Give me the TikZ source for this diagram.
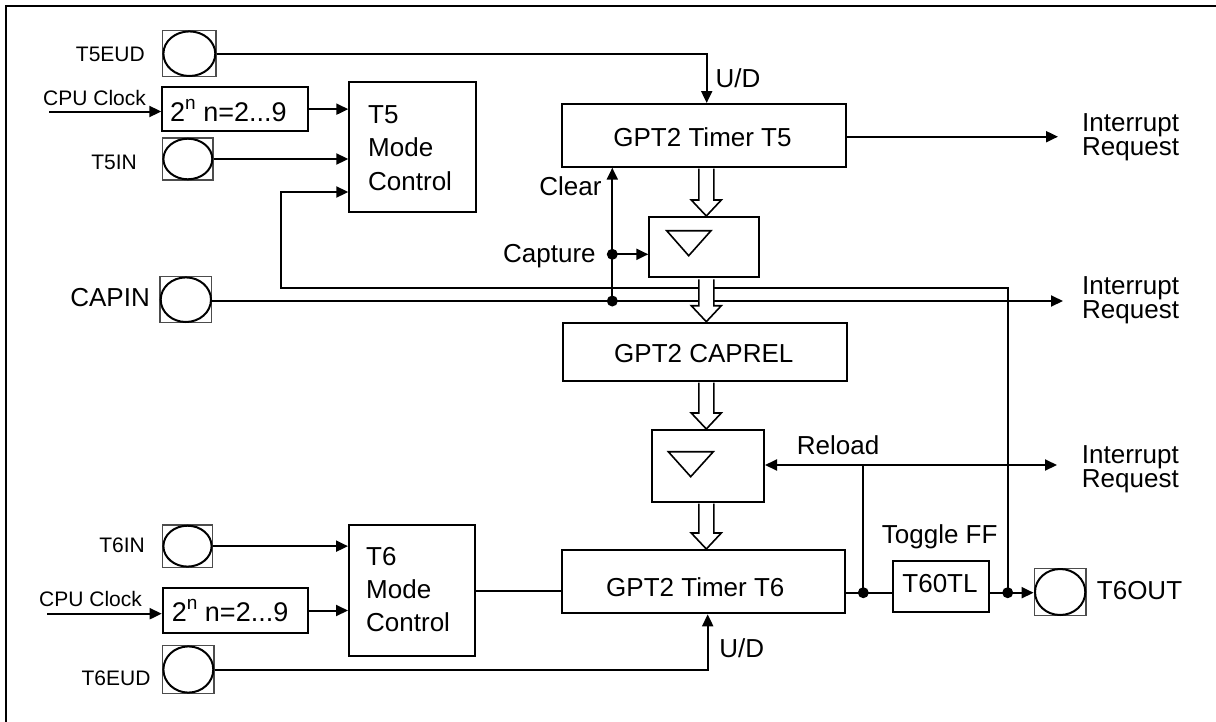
\documentclass[tikz,border=0pt]{standalone}
\usepackage{fontspec}
\setmainfont{Liberation Sans}
\usetikzlibrary{arrows.meta,calc}
\newcommand{\hollowarr}[2]{\draw[hol] let \p1=(#1),\p2=(#2) in (\x1-7.5pt,\y1-1pt) -- (\x1-7.5pt,\y2+16pt) -- (\x1-15pt,\y2+16pt) -- (\x1,\y2) -- (\x1+15pt,\y2+16pt) -- (\x1+7.5pt,\y2+16pt) -- (\x1+7.5pt,\y1-1pt);}
\newcommand{\padnode}[5]{\node[padsq,minimum width=#4,minimum height=#5] (#1) at (#2,#3) {};
  \draw[padel] (#1.center) ellipse [x radius={(#4/2-0.7)*1pt}, y radius={(#5/2-0.7)*1pt}];}
\begin{document}
\begin{tikzpicture}[x=1pt,y=-1pt,
  wire/.style={line width=2pt},
  arr/.style={wire,-{Triangle[length=12pt,width=11pt]}},
  blk/.style={draw,line width=2pt,inner sep=0pt},
  padsq/.style={draw=black!70,line width=1.4pt,inner sep=0pt},
  padel/.style={line width=2pt},
  hol/.style={draw,fill=white,line width=1.6pt,line join=miter},
  tri/.style={line width=1.6pt,line join=miter},
  dot/.style={circle,fill,inner sep=0pt,minimum size=11pt},
  lbl/.style={inner sep=0pt,font=\fontsize{26}{30}\selectfont},
  slbl/.style={inner sep=0pt,font=\fontsize{21}{25}\selectfont},
  irq/.style={inner sep=0pt,align=left,font=\fontsize{26}{24}\selectfont}]
\useasboundingbox (0,0) rectangle (1216,721);
\draw[line width=2pt] (5.7,722) -- (5.7,6) -- (1217,6);

% boxes
\node[blk,minimum width=145.4,minimum height=43.7] (pre1) at (235,109.15) {};
\node[blk,minimum width=145,minimum height=45.6] (pre2) at (235.2,610.5) {};
\node[blk,minimum width=126.7,minimum height=130.6] (t5mode) at (412.65,147) {};
\node[blk,minimum width=126,minimum height=131] (t6mode) at (412,590.5) {};
\node[blk,minimum width=283.4,minimum height=62.7] (t5) at (704,135.35) {};
\node[blk,minimum width=110,minimum height=60.3] (capbox) at (704.3,247.15) {};
\node[blk,minimum width=283.4,minimum height=58] (caprel) at (705,351.7) {};
\node[blk,minimum width=111.7,minimum height=71.7] (relbox) at (708.15,465.85) {};
\node[blk,minimum width=283.3,minimum height=63.3] (t6) at (703.35,581.65) {};
\node[blk,minimum width=96,minimum height=51.6] (tff) at (941.3,586.5) {};

% pads
\padnode{t5eud}{189.35}{53.7}{53.3}{46}
\padnode{t5in}{187.85}{159}{50.3}{42}
\padnode{capin}{185.85}{299.7}{51.7}{46}
\padnode{t6in}{187.5}{546.15}{49.6}{42.3}
\padnode{t6eud}{188.35}{669.5}{51.3}{47.6}
\padnode{t6out}{1060.15}{592}{51.7}{47.4}

% triangles
\draw[tri] (666.7,230.7) -- (711,230.7) -- (688.7,255.7) -- cycle;
\draw[tri] (668.3,451.7) -- (713.3,451.7) -- (690.7,476.7) -- cycle;

% dots and coordinates
\node[dot] (d1) at (863.3,592.7) {};
\node[dot] (d2) at (1007.7,592.7) {};
\node[dot] (d3) at (612.3,301) {};
\node[dot] (d4) at (612.3,254.3) {};
\coordinate (clk1) at (49,111.5);
\coordinate (clk2) at (47,613.7);
\coordinate (udA) at (706.7,0);
\coordinate (udB) at (707.7,0);
\coordinate (fbA) at (281,287.7);
\coordinate (fbB) at (281,192);
\coordinate (rj) at (863.3,465);
\coordinate (irq1tip) at (1058,136.7);
\coordinate (irq2tip) at (1063,301);
\coordinate (irq3tip) at (1057,465);
\coordinate (hx) at (706.3,0);

% texts
\node[slbl,anchor=base east] (lt5eud) at (145,61.7) {T5EUD};
\node[slbl,anchor=base west] (lclk1) at (43,105) {CPU Clock};
\node[slbl,anchor=base east] (lt5in) at (137,169.3) {T5IN};
\node[lbl,anchor=base east] (lcapin) at (150,306) {CAPIN};
\node[slbl,anchor=base east] (lt6in) at (145,552.7) {T6IN};
\node[slbl,anchor=base west] (lclk2) at (39,606) {CPU Clock};
\node[slbl,anchor=base east] (lt6eud) at (150.7,685) {T6EUD};
\node[inner sep=0pt,anchor=base west,font=\fontsize{27}{30}\selectfont] (tpre1) at (170,121.7) {2\raisebox{12pt}{\fontsize{19}{19}\selectfont n} n=2...9};
\node[inner sep=0pt,anchor=base west,font=\fontsize{27}{30}\selectfont] (tpre2) at (171.7,621.7) {2\raisebox{12pt}{\fontsize{19}{19}\selectfont n} n=2...9};
\node[lbl,align=left,anchor=west,font=\fontsize{26}{33.3}\selectfont] (tt5mode) at (368,148) {T5\\Mode\\Control};
\node[lbl,align=left,anchor=west,font=\fontsize{26}{33.3}\selectfont] (tt6mode) at (366,589.5) {T6\\Mode\\Control};
\node[lbl] (tt5) at (702.5,137.5) {GPT2 Timer T5};
\node[lbl] (tcaprel) at (703.8,353.3) {GPT2 CAPREL};
\node[lbl] (tt6) at (695.3,587) {GPT2 Timer T6};
\node[lbl] (ttff) at (940,583.7) {T60TL};
\node[lbl] (lud1) at (738,77.8) {U/D};
\node[lbl] (lud2) at (741.7,648.3) {U/D};
\node[lbl,anchor=base east] (lclear) at (601.7,195) {Clear};
\node[lbl,anchor=base west] (lcapture) at (503,262.7) {Capture};
\node[lbl,anchor=base west] (lreload) at (796.7,454) {Reload};
\node[lbl,anchor=base west] (ltoggle) at (881.7,543.3) {Toggle FF};
\node[lbl,anchor=base west] (lt6out) at (1096.7,599.3) {T6OUT};
\node[irq,anchor=north west] (irq1) at (1082,113.3) {Interrupt\\Request};
\node[irq,anchor=north west] (irq2) at (1082,276.7) {Interrupt\\Request};
\node[irq,anchor=north west] (irq3) at (1081.7,445) {Interrupt\\Request};

% connectors
\draw[arr] (clk1) -- (clk1 -| pre1.west);
\draw[arr] (clk2) -- (clk2 -| pre2.west);
\draw[arr] (pre1.east) -- (pre1.east -| t5mode.west);
\draw[arr] (t5in.east) -- (t5in.east -| t5mode.west);
\draw[arr] (t5eud.east) -| (t5.north -| udA);
\draw[arr] (d2.center) |- (fbA) -- (fbB) -- (fbB -| t5mode.west);
\draw[arr] (capin.east |- d3) -- (irq2tip);
\draw[arr] (d3.center) -- (d3.center |- t5.south);
\draw[arr] (d4.center) -- (d4.center -| capbox.west);
\draw[arr] (t5.east |- irq1tip) -- (irq1tip);
\draw[wire] (t6.east |- d1) -- (d1.center) -- (tff.west |- d1);
\draw[wire] (d1.center) -- (rj);
\draw[arr] (rj) -- (rj -| relbox.east);
\draw[arr] (rj) -- (irq3tip);
\draw[wire] (tff.east |- d2) -- (d2.center);
\draw[arr] (d2.center) -- (d2.center -| t6out.west);
\draw[arr] (t6in.east) -- (t6in.east -| t6mode.west);
\draw[arr] (pre2.east) -- (pre2.east -| t6mode.west);
\draw[wire] (t6mode.east) -- (t6mode.east -| t6.west);
\draw[arr] (t6eud.east) -| (t6.south -| udB);

% hollow bus arrows
\hollowarr{t5.south -| hx}{capbox.north -| hx}
\hollowarr{capbox.south -| hx}{caprel.north -| hx}
\hollowarr{caprel.south -| hx}{relbox.north -| hx}
\hollowarr{relbox.south -| hx}{t6.north -| hx}
\end{tikzpicture}
\end{document}
